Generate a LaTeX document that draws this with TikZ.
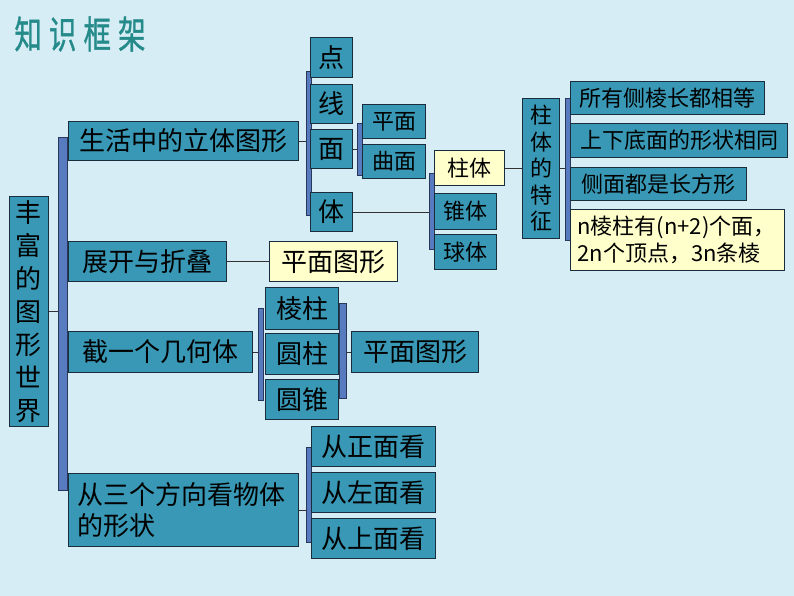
\documentclass[tikz,border=0pt]{standalone}
\usepackage{fontspec}
\setmainfont{Noto Sans CJK SC}
\newfontfamily\headfont[FakeBold=1.2]{Noto Sans CJK SC}
\usetikzlibrary{positioning}

\begin{document}
\begin{tikzpicture}[x=1pt, y=-1pt,
  box/.style={draw=boxline, fill=boxfill, line width=1pt, anchor=north west, inner sep=0pt, text=black},
  note/.style={box, fill=notefill},
  bar/.style={draw=barline, fill=barfill, line width=0.8pt, anchor=north west, inner sep=0pt, minimum width=5},
  link/.style={draw=linkcol, line width=0.9pt},
  big/.style={font=\fontsize{26}{31}\selectfont},
  small/.style={font=\fontsize{22}{27}\selectfont}]

  % Colors
  \definecolor{bg}{RGB}{214,237,245}
  \definecolor{boxfill}{RGB}{56,152,181}
  \definecolor{boxline}{RGB}{25,45,60}
  \definecolor{notefill}{RGB}{255,255,204}
  \definecolor{barfill}{RGB}{88,122,190}
  \definecolor{barline}{RGB}{40,55,90}
  \definecolor{linkcol}{RGB}{50,50,50}
  \definecolor{titlecol}{RGB}{36,138,138}

  % Background
  \fill[bg] (0,0) rectangle (794,596);
  \useasboundingbox (0,0) rectangle (794,596);

  % Title
  \node[text=titlecol, font=\headfont\fontsize{38}{38}\selectfont, xscale=0.72] (title) at (80,34)
    {知\hspace{10pt}识\hspace{10pt}框\hspace{10pt}架};

  % Root and main branches
  \node[box, big, minimum width=39, minimum height=230, align=center, font=\fontsize{26}{33}\selectfont] (world) at (9,196) {丰\\富\\的\\图\\形\\世\\界};
  \node[bar, minimum width=9, minimum height=353] (trunk) at (58,137) {};
  \node[box, big, minimum width=230, minimum height=39] (life) at (68,121) {生活中的立体图形};
  \node[box, big, minimum width=158, minimum height=40] (unfold) at (68,241) {展开与折叠};
  \node[box, big, minimum width=184, minimum height=41] (cut) at (68,331) {截一个几何体};
  \node[box, big, minimum width=230, minimum height=73, text width=212, align=left] (view) at (68,473) {从三个方向看物体\\的形状};

  % Point, line, face, body
  \node[bar, minimum height=144] (blife) at (306,71) {};
  \node[box, big, minimum width=42, minimum height=40] (dot) at (310,37) {点};
  \node[box, big, minimum width=42, minimum height=39] (line) at (310,84) {线};
  \node[box, big, minimum width=42, minimum height=39] (face) at (310,129) {面};
  \node[box, big, minimum width=42, minimum height=39] (body) at (310,192) {体};

  \node[bar, minimum height=52] (bface) at (357,123) {};
  \node[box, small, minimum width=63, minimum height=34] (plane) at (362,104) {平面};
  \node[box, small, minimum width=63, minimum height=34] (curved) at (362,144) {曲面};

  \node[bar, minimum height=76] (bbody) at (429,173) {};
  \node[note, small, minimum width=70, minimum height=35] (prism) at (434,150) {柱体};
  \node[box, small, minimum width=62, minimum height=36] (cone) at (434,193) {锥体};
  \node[box, small, minimum width=62, minimum height=35] (sphere) at (434,234) {球体};

  % Features of prisms
  \node[box, minimum width=37, minimum height=140, align=center, font=\fontsize{22}{26.5}\selectfont] (feat) at (522,98) {柱\\体\\的\\特\\征};
  \node[bar, minimum height=142] (bfeat) at (565,98) {};
  \node[box, small, minimum width=194, minimum height=33] (f1) at (570,81) {所有侧棱长都相等};
  \node[box, small, minimum width=217, minimum height=34] (f2) at (570,123) {上下底面的形状相同};
  \node[box, small, minimum width=176, minimum height=33] (f3) at (570,167) {侧面都是长方形};
  \node[note, small, minimum width=214, minimum height=61, text width=200, align=left] (f4) at (570,209) {n棱柱有(n+2)个面，\\2n个顶点，3n条棱};

  % Unfolding
  \node[note, big, minimum width=128, minimum height=40] (flat1) at (269,241) {平面图形};

  % Cutting a solid
  \node[bar, minimum height=92] (bcut) at (258,308) {};
  \node[box, big, minimum width=73, minimum height=42] (lprism) at (265,287) {棱柱};
  \node[box, big, minimum width=73, minimum height=41] (cyl) at (265,333) {圆柱};
  \node[box, big, minimum width=73, minimum height=40] (cone2) at (265,379) {圆锥};
  \node[bar, minimum width=7, minimum height=95] (bcutr) at (339,303) {};
  \node[box, big, minimum width=127, minimum height=41] (flat2) at (351,331) {平面图形};

  % Three views
  \node[bar, minimum height=95] (bview) at (306,447) {};
  \node[box, big, minimum width=124, minimum height=40] (front) at (311,426) {从正面看};
  \node[box, big, minimum width=124, minimum height=40] (leftv) at (311,472) {从左面看};
  \node[box, big, minimum width=124, minimum height=40] (topv) at (311,518) {从上面看};

  % Connectors
  \draw[link] (world.east) -- (world.east -| trunk.west);
  \draw[link] (life.east) -- (life.east -| blife.west);
  \draw[link] (face.east) -- (face.east -| bface.west);
  \draw[link] (body.east) -- (body.east -| bbody.west);
  \draw[link] (prism.east) -- (prism.east -| feat.west);
  \draw[link] (feat.east) -- (feat.east -| bfeat.west);
  \draw[link] (unfold.east) -- (flat1.west);
  \draw[link] (cut.east) -- (cut.east -| bcut.west);
  \draw[link] (bcutr.east |- flat2.west) -- (flat2.west);
  \draw[link] (view.east) -- (view.east -| bview.west);

\end{tikzpicture}
\end{document}
